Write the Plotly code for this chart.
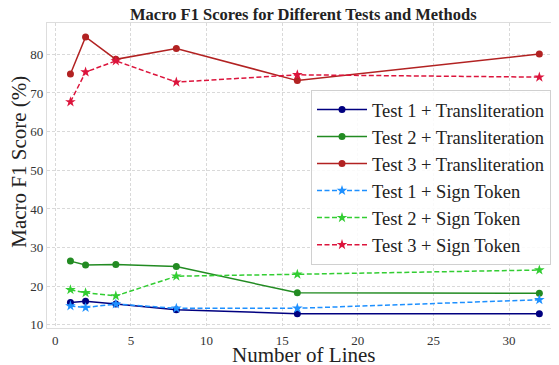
import plotly.graph_objects as go

lines = [1, 2, 4, 8, 16, 32]
test1_translit = [15.8, 16.1, 15.4, 13.95, 12.9, 12.9]
test2_translit = [26.5, 25.5, 25.6, 25.1, 18.3, 18.2]
test3_translit = [74.9, 84.5, 78.7, 81.5, 73.2, 80.1]
test1_sign = [14.9, 14.5, 15.4, 14.3, 14.3, 16.5]
test2_sign = [19.1, 18.3, 17.5, 22.6, 23.1, 24.2]
test3_sign = [67.7, 75.4, 78.3, 72.8, 74.7, 74.1]

series = [
    ("Test 1 + Transliteration", test1_translit, "#000080", "solid", "circle", 7),
    ("Test 2 + Transliteration", test2_translit, "#228B22", "solid", "circle", 7),
    ("Test 3 + Transliteration", test3_translit, "#B22222", "solid", "circle", 7),
    ("Test 1 + Sign Token", test1_sign, "#1E90FF", "5px,2.5px", "star", 8),
    ("Test 2 + Sign Token", test2_sign, "#32CD32", "5px,2.5px", "star", 8),
    ("Test 3 + Sign Token", test3_sign, "#DC143C", "5px,2.5px", "star", 8),
]

fig = go.Figure()
for name, ys, color, dash, sym, size in series:
    fig.add_trace(go.Scatter(
        x=lines, y=ys, name=name, mode="lines+markers",
        line=dict(color=color, width=1.5, dash=dash),
        marker=dict(color=color, symbol=sym, size=size),
    ))

FF = "Times New Roman, Liberation Serif, serif"
OFF = 8  # page body margin offset
W, H = 559 - OFF, 365 - OFF
# plot area in page pixels
PL, PT, PB, PR = 47, 23, 328.5, 559
L, T = PL - OFF, PT - OFF
B = H - (PB - OFF)
R = W - (PR - OFF)
plot_h = (PB - PT)
plot_w = (PR - PL)

def px_x(px):
    return (px - PL) / plot_w

def px_y(py):
    return (PB - py) / plot_h

fig.update_layout(
    width=W, height=H,
    margin=dict(l=L, r=R, t=T, b=B, autoexpand=False),
    paper_bgcolor="white", plot_bgcolor="white",
    font=dict(family=FF, color="#333333"),
    xaxis=dict(range=[-0.55, 33.3], tickvals=[0, 5, 10, 15, 20, 25, 30],
               showgrid=True, gridcolor="#d9d9d9", griddash="3px,2px", gridwidth=0.8,
               zeroline=False, showline=True, linecolor="#dddddd", linewidth=1.2, mirror=True,
               ticks="", automargin=False, tickfont=dict(size=13, color="#333333", family=FF)),
    yaxis=dict(range=[9.2, 88.1], tickvals=[10, 20, 30, 40, 50, 60, 70, 80],
               showgrid=True, gridcolor="#d9d9d9", griddash="3px,2px", gridwidth=0.8,
               zeroline=False, showline=True, linecolor="#dddddd", linewidth=1.2, mirror=True,
               ticks="", automargin=False, tickfont=dict(size=13, color="#333333", family=FF)),
    legend=dict(x=px_x(551), xanchor="right", y=px_y(90), yanchor="top",
                bgcolor="rgba(255,255,255,0.85)", bordercolor="#d0d0d0", borderwidth=1,
                font=dict(size=18.5, color="#222222", family=FF),
                itemwidth=50),
    annotations=[
        dict(text="<b>Macro F1 Scores for Different Tests and Methods</b>",
             xref="paper", yref="paper", x=px_x(303), y=px_y(14),
             xanchor="center", yanchor="middle", showarrow=False,
             font=dict(size=16.5, color="#222222", family=FF)),
        dict(text="Number of Lines",
             xref="paper", yref="paper", x=px_x(303), y=px_y(356),
             xanchor="center", yanchor="middle", showarrow=False,
             font=dict(size=21, color="#222222", family=FF)),
        dict(text="Macro F1 Score (%)",
             xref="paper", yref="paper", x=px_x(19), y=px_y(162),
             xanchor="center", yanchor="middle", showarrow=False, textangle=-90,
             font=dict(size=21, color="#222222", family=FF)),
    ],
)

fig.write_html("out.html")
